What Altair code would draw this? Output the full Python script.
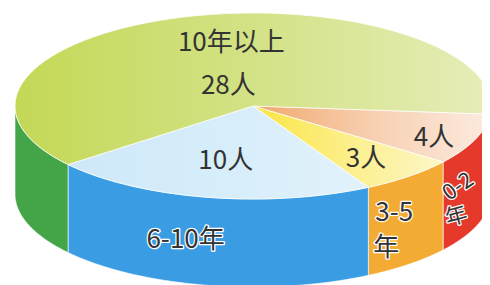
import altair as alt
import pandas as pd

# ---- data ----
categories = ["0-2年", "3-5年", "6-10年", "10年以上"]
counts = [4, 3, 10, 28]
count_labels = ["4人", "3人", "10人", "28人"]

# ---- styles ----
# top faces: gradient from the centre side (left) to the rim side (right)
top_grad = {
    "0-2年":   ["#f0a86c", "#f7cfb0", "#fcebe0"],
    "3-5年":   ["#fbe443", "#fcef8a", "#fdf7c8"],
    "6-10年":  ["#cfe8f9", "#d6edfa", "#e2f2fb"],
    "10年以上": ["#c4d856", "#d3e286", "#e6edb8"],
}
side_colors = ["#e5392b", "#f3ab33", "#3a9de4", "#43a547"]
FONT = "Noto Sans CJK SC"
TEXT_COLOR = "#333333"

# geometry of the 3-D pie (in page pixels)
START = 95          # first slice starts here, degrees clockwise from 12 o'clock
CX, CY, RX, RY, DEPTH = 253, 106, 238, 93, 88
N = 72

# label layout (relative offsets)
layout = pd.DataFrame({
    "r":     [0.815, 0.73, 0.6, 0.225],
    "cdx":   [0, -1, 0, -9],
    "cdy":   [5, 2, 0, 0],
    "place": ["side", "side", "side", "top"],
    "fs":    [22, 26, 26, 26],
    "n1":    ["0-2", "3-5", "6-10年", "10年以上"],
    "n1dx":  [-17, -15, -22, 3],
    "n1dy":  [3, -7, -1, -43],
    "n1rot": [325, 0, 0, 0],
    "n2":    ["年", "年", "", ""],
    "n2dx":  [-19, -23, 0, 0],
    "n2dy":  [33, 28, 0, 0],
    "n2rot": [345, 0, 0, 0],
})

df = pd.DataFrame({"cat": categories, "count": counts, "clabel": count_labels,
                   "idx": list(range(len(categories)))})
df = pd.concat([df, layout], axis=1)

# page is 490x285 with an 8px margin
W, H = 474, 277
xs = alt.Scale(domain=[8, 8 + W], nice=False, zero=False)
ys = alt.Scale(domain=[8, 8 + H], nice=False, zero=False, reverse=True)

base = (
    alt.Chart(df)
    .transform_joinaggregate(total="sum(count)")
    .transform_window(cum="sum(count)", sort=[alt.SortField("idx")], frame=[None, 0])
    .transform_calculate(a0=f"{START} + 360*(datum.cum - datum.count)/datum.total")
    .transform_calculate(a1=f"{START} + 360*datum.cum/datum.total")
)

# --- side band (front half only) ---
side = (
    base.transform_calculate(w="sequence(0, 2)")
    .transform_flatten(["w"])
    .transform_calculate(s="max(datum.a0, 90 + 360*datum.w)")
    .transform_calculate(e="min(datum.a1, 270 + 360*datum.w)")
    .transform_filter("datum.s < datum.e")
    .transform_calculate(k=f"sequence(0, {2*N+3})")
    .transform_flatten(["k"])
    .transform_calculate(
        frac=f"datum.k <= {N} ? datum.k/{N} : (datum.k <= {2*N+1} ? ({2*N+1} - datum.k)/{N} : 0)")
    .transform_calculate(low=f"datum.k > {N} && datum.k <= {2*N+1} ? 1 : 0")
    .transform_calculate(t="(datum.s + (datum.e - datum.s)*datum.frac)*PI/180")
    .transform_calculate(px=f"{CX} + {RX}*sin(datum.t)")
    .transform_calculate(py=f"{CY} - {RY}*cos(datum.t) + datum.low*{DEPTH}")
    .mark_line(filled=True, stroke="#ffffff", strokeWidth=1, strokeOpacity=0.6)
    .encode(
        x=alt.X("px:Q", scale=xs, axis=None),
        y=alt.Y("py:Q", scale=ys, axis=None),
        color=alt.Color("cat:N", scale=alt.Scale(domain=categories, range=side_colors), legend=None),
        order=alt.Order("k:Q"),
        detail=["cat:N", "w:Q"],
    )
)

# --- top face, one layer per slice for its gradient ---
top_base = (
    base.transform_calculate(k=f"sequence(0, {N+3})")
    .transform_flatten(["k"])
    .transform_calculate(edge=f"datum.k >= 1 && datum.k <= {N+1} ? 1 : 0")
    .transform_calculate(t=f"(datum.a0 + (datum.a1 - datum.a0)*(datum.k - 1)/{N})*PI/180")
    .transform_calculate(px=f"datum.edge ? {CX} + {RX}*sin(datum.t) : {CX}")
    .transform_calculate(py=f"datum.edge ? {CY} - {RY}*cos(datum.t) : {CY}")
)
tops = []
for cat in categories:
    c = top_grad[cat]
    grad = alt.LinearGradient(
        gradient="linear", x1=0, y1=0, x2=1, y2=0,
        stops=[alt.GradientStop(color=c[0], offset=0),
               alt.GradientStop(color=c[1], offset=0.5),
               alt.GradientStop(color=c[2], offset=1)],
    )
    tops.append(
        top_base.transform_filter(alt.datum.cat == cat)
        .mark_line(filled=True, fill=grad, stroke="#ffffff", strokeWidth=1, strokeOpacity=0.7)
        .encode(
            x=alt.X("px:Q", scale=xs, axis=None),
            y=alt.Y("py:Q", scale=ys, axis=None),
            order=alt.Order("k:Q"),
        )
    )

# --- label positions ---
lab = (
    base.transform_calculate(m="(datum.a0 + datum.a1)/2*PI/180")
    .transform_calculate(sm="(max(datum.a0, 90) + min(datum.a1, 270))/2*PI/180")
    .transform_calculate(cxp=f"{CX} + {RX}*datum.r*sin(datum.m) + datum.cdx")
    .transform_calculate(cyp=f"{CY} - {RY}*datum.r*cos(datum.m) + datum.cdy")
    .transform_calculate(bx=f"datum.place == 'top' ? datum.cxp : {CX} + {RX}*sin(datum.sm)")
    .transform_calculate(by=f"datum.place == 'top' ? datum.cyp : {CY} - {RY}*cos(datum.sm) + {DEPTH/2}")
    .transform_calculate(x1="datum.bx + datum.n1dx", y1="datum.by + datum.n1dy")
    .transform_calculate(x2="datum.bx + datum.n2dx", y2="datum.by + datum.n2dy")
)

count_text = lab.mark_text(font=FONT, fontSize=26, fill=TEXT_COLOR, align="center", baseline="middle").encode(
    x=alt.X("cxp:Q", scale=xs, axis=None),
    y=alt.Y("cyp:Q", scale=ys, axis=None),
    text="clabel:N",
)

def name_layer(tx, xf, yf, rf, halo):
    kw = dict(font=FONT, align="center", baseline="middle")
    if halo:
        mk = lab.mark_text(stroke="#ffffff", strokeWidth=2.5, strokeJoin="round", fill="#ffffff", **kw)
    else:
        mk = lab.mark_text(fill=TEXT_COLOR, **kw)
    return mk.encode(
        x=alt.X(f"{xf}:Q", scale=xs, axis=None),
        y=alt.Y(f"{yf}:Q", scale=ys, axis=None),
        text=f"{tx}:N",
        angle=alt.Angle(f"{rf}:Q", scale=None),
        size=alt.Size("fs:Q", scale=None),
    )

halo1 = name_layer("n1", "x1", "y1", "n1rot", True).transform_filter("datum.place == 'side'")
halo2 = name_layer("n2", "x2", "y2", "n2rot", True).transform_filter("datum.place == 'side' && datum.n2 != ''")
name1 = name_layer("n1", "x1", "y1", "n1rot", False)
name2 = name_layer("n2", "x2", "y2", "n2rot", False).transform_filter("datum.n2 != ''")

# halos first (on the side band), then the faces and the dark texts above them
chart = (
    alt.layer(side, halo1, halo2, *tops, count_text, name1, name2)
    .properties(width=W, height=H, padding=0, autosize=alt.AutoSizeParams(type="none"))
    .configure_view(stroke=None)
)

chart.save("out.html", embed_options={"renderer": "svg", "actions": False})
